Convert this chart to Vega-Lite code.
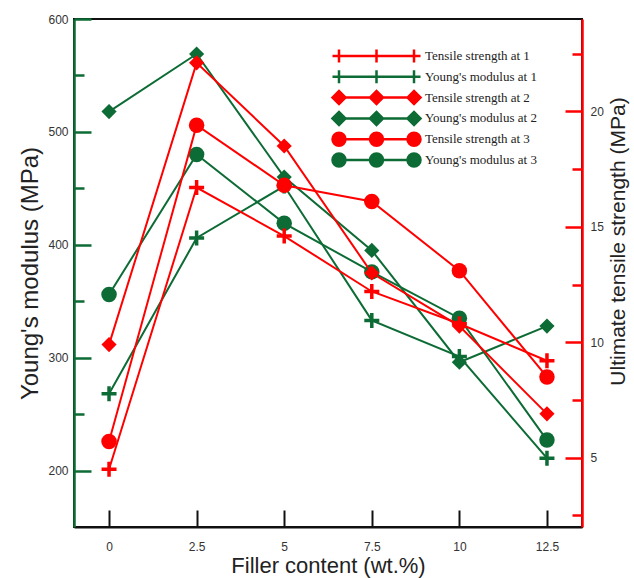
{
  "$schema": "https://vega.github.io/schema/vega-lite/v6.json",
  "width": 508,
  "height": 508,
  "autosize": {"type": "none"},
  "padding": {"left": 74, "top": 19, "right": 52, "bottom": 51},
  "background": "white",
  "config": {
    "view": {"stroke": "#111111", "strokeWidth": 2},
    "font": "Liberation Sans",
    "axis": {"grid": false, "labelFont": "Liberation Sans", "titleFont": "Liberation Sans", "labelFontSize": 12, "labelColor": "#333333", "titleColor": "#222222", "titleFontWeight": "normal"}
  },
  "data": {
    "values": [
      {"filler": 0, "prop": "Y", "set": 1, "series": "Young's modulus at 1", "value": 268},
      {"filler": 2.5, "prop": "Y", "set": 1, "series": "Young's modulus at 1", "value": 406},
      {"filler": 5, "prop": "Y", "set": 1, "series": "Young's modulus at 1", "value": 452},
      {"filler": 7.5, "prop": "Y", "set": 1, "series": "Young's modulus at 1", "value": 333},
      {"filler": 10, "prop": "Y", "set": 1, "series": "Young's modulus at 1", "value": 301},
      {"filler": 12.5, "prop": "Y", "set": 1, "series": "Young's modulus at 1", "value": 211},
      {"filler": 0, "prop": "Y", "set": 2, "series": "Young's modulus at 2", "value": 518},
      {"filler": 2.5, "prop": "Y", "set": 2, "series": "Young's modulus at 2", "value": 569},
      {"filler": 5, "prop": "Y", "set": 2, "series": "Young's modulus at 2", "value": 460},
      {"filler": 7.5, "prop": "Y", "set": 2, "series": "Young's modulus at 2", "value": 395},
      {"filler": 10, "prop": "Y", "set": 2, "series": "Young's modulus at 2", "value": 296},
      {"filler": 12.5, "prop": "Y", "set": 2, "series": "Young's modulus at 2", "value": 328},
      {"filler": 0, "prop": "Y", "set": 3, "series": "Young's modulus at 3", "value": 356},
      {"filler": 2.5, "prop": "Y", "set": 3, "series": "Young's modulus at 3", "value": 480},
      {"filler": 5, "prop": "Y", "set": 3, "series": "Young's modulus at 3", "value": 419},
      {"filler": 7.5, "prop": "Y", "set": 3, "series": "Young's modulus at 3", "value": 376},
      {"filler": 10, "prop": "Y", "set": 3, "series": "Young's modulus at 3", "value": 335},
      {"filler": 12.5, "prop": "Y", "set": 3, "series": "Young's modulus at 3", "value": 227},
      {"filler": 0, "prop": "T", "set": 1, "series": "Tensile strength at 1", "value": 4.5},
      {"filler": 2.5, "prop": "T", "set": 1, "series": "Tensile strength at 1", "value": 16.7},
      {"filler": 5, "prop": "T", "set": 1, "series": "Tensile strength at 1", "value": 14.6},
      {"filler": 7.5, "prop": "T", "set": 1, "series": "Tensile strength at 1", "value": 12.2},
      {"filler": 10, "prop": "T", "set": 1, "series": "Tensile strength at 1", "value": 10.8},
      {"filler": 12.5, "prop": "T", "set": 1, "series": "Tensile strength at 1", "value": 9.2},
      {"filler": 0, "prop": "T", "set": 2, "series": "Tensile strength at 2", "value": 9.9},
      {"filler": 2.5, "prop": "T", "set": 2, "series": "Tensile strength at 2", "value": 22.1},
      {"filler": 5, "prop": "T", "set": 2, "series": "Tensile strength at 2", "value": 18.5},
      {"filler": 7.5, "prop": "T", "set": 2, "series": "Tensile strength at 2", "value": 13.0},
      {"filler": 10, "prop": "T", "set": 2, "series": "Tensile strength at 2", "value": 10.7},
      {"filler": 12.5, "prop": "T", "set": 2, "series": "Tensile strength at 2", "value": 6.9},
      {"filler": 0, "prop": "T", "set": 3, "series": "Tensile strength at 3", "value": 5.7},
      {"filler": 2.5, "prop": "T", "set": 3, "series": "Tensile strength at 3", "value": 19.4},
      {"filler": 5, "prop": "T", "set": 3, "series": "Tensile strength at 3", "value": 16.8},
      {"filler": 7.5, "prop": "T", "set": 3, "series": "Tensile strength at 3", "value": 16.1},
      {"filler": 10, "prop": "T", "set": 3, "series": "Tensile strength at 3", "value": 13.1},
      {"filler": 12.5, "prop": "T", "set": 3, "series": "Tensile strength at 3", "value": 8.5}
    ]
  },
  "encoding": {
    "x": {
      "field": "filler",
      "type": "quantitative",
      "scale": {"domain": [-1, 13.5], "nice": false, "zero": false},
      "axis": {
        "title": "Filler content (wt.%)",
        "values": [0, 2.5, 5, 7.5, 10, 12.5],
        "labelExpr": "'' + datum.value",
        "tickSize": -17,
        "tickWidth": 2,
        "tickColor": "#111111",
        "domainColor": "#111111",
        "domainWidth": 2,
        "labelPadding": 31,
        "titleFontSize": 22,
        "titlePadding": 3
      }
    }
  },
  "layer": [
    {
      "transform": [{"filter": "datum.prop === 'Y'"}],
      "encoding": {
        "y": {
          "field": "value",
          "type": "quantitative",
          "scale": {"domain": [150, 600], "nice": false, "zero": false},
          "axis": {
            "orient": "left",
            "title": "Young's modulus (MPa)",
            "values": [200, 250, 300, 350, 400, 450, 500, 550, 600],
            "labelExpr": "datum.value % 100 === 0 ? datum.label : ''",
            "tickSize": {"condition": {"test": "datum.value % 100 === 0", "value": -17}, "value": -10},
            "tickWidth": 2.5,
            "tickColor": "#0d6b35",
            "domainColor": "#0d6b35",
            "domainWidth": 2.5,
            "labelPadding": 23,
            "titleFontSize": 24,
            "titlePadding": 5
          }
        }
      },
      "layer": [
        {"mark": {"type": "line", "color": "#0d6b35", "strokeWidth": 2}, "encoding": {"detail": {"field": "series"}}},
        {"transform": [{"filter": "datum.set === 1"}], "mark": {"type": "point", "shape": "M-1,0L1,0M0,-1L0,1", "filled": false, "color": "#0d6b35", "strokeWidth": 3.5, "size": 225, "opacity": 1}},
        {"transform": [{"filter": "datum.set === 2"}], "mark": {"type": "point", "shape": "diamond", "filled": true, "color": "#0d6b35", "size": 230, "opacity": 1}},
        {"transform": [{"filter": "datum.set === 3"}], "mark": {"type": "point", "shape": "circle", "filled": true, "color": "#0d6b35", "size": 240, "opacity": 1}}
      ]
    },
    {
      "transform": [{"filter": "datum.prop === 'T'"}],
      "encoding": {
        "y": {
          "field": "value",
          "type": "quantitative",
          "scale": {"domain": [2, 24], "nice": false, "zero": false},
          "axis": {
            "orient": "right",
            "title": "Ultimate tensile strength (MPa)",
            "values": [2.5, 5, 7.5, 10, 12.5, 15, 17.5, 20, 22.5],
            "labelExpr": "datum.value % 5 === 0 ? datum.label : ''",
            "tickSize": {"condition": {"test": "datum.value % 5 === 0", "value": -17}, "value": -10},
            "tickWidth": 2.5,
            "tickColor": "#ff0000",
            "domainColor": "#ff0000",
            "domainWidth": 2.5,
            "labelPadding": 25,
            "titleFontSize": 21,
            "titleAngle": 270,
            "titleBaseline": "top",
            "titleY": 222,
            "titlePadding": 4
          }
        }
      },
      "layer": [
        {"mark": {"type": "line", "color": "#ff0000", "strokeWidth": 2}, "encoding": {"detail": {"field": "series"}}},
        {"transform": [{"filter": "datum.set === 1"}], "mark": {"type": "point", "shape": "M-1,0L1,0M0,-1L0,1", "filled": false, "color": "#ff0000", "strokeWidth": 3.5, "size": 225, "opacity": 1}},
        {"transform": [{"filter": "datum.set === 2"}], "mark": {"type": "point", "shape": "diamond", "filled": true, "color": "#ff0000", "size": 230, "opacity": 1}},
        {"transform": [{"filter": "datum.set === 3"}], "mark": {"type": "point", "shape": "circle", "filled": true, "color": "#ff0000", "size": 240, "opacity": 1}},
        {
          "mark": {"type": "point", "filled": true, "opacity": 0, "size": 169},
          "encoding": {
            "fill": {
              "field": "series",
              "type": "nominal",
              "scale": {
                "domain": ["Tensile strength at 1", "Young's modulus at 1", "Tensile strength at 2", "Young's modulus at 2", "Tensile strength at 3", "Young's modulus at 3"],
                "range": ["#ff0000", "#0d6b35", "#ff0000", "#0d6b35", "#ff0000", "#0d6b35"]
              },
              "legend": {
                "title": null,
                "orient": "none",
                "legendX": 257,
                "legendY": 29,
                "labelFont": "Liberation Serif",
                "labelFontSize": 13,
                "labelColor": "#222222",
                "labelOffset": 78,
                "rowPadding": -3.2,
                "symbolSize": 169,
                "symbolStrokeWidth": 2.5,
                "encode": {
                  "symbols": {
                    "update": {
                      "fill": {"signal": "indexof(datum.value, 'Tensile') === 0 ? '#ff0000' : '#0d6b35'"},
                      "stroke": {"signal": "indexof(datum.value, 'Tensile') === 0 ? '#ff0000' : '#0d6b35'"},
                      "fillOpacity": {"value": 1},
                      "strokeOpacity": {"value": 1},
                      "opacity": {"value": 1}
                    }
                  }
                }
              }
            },
            "stroke": {
              "field": "series",
              "type": "nominal",
              "scale": {
                "domain": ["Tensile strength at 1", "Young's modulus at 1", "Tensile strength at 2", "Young's modulus at 2", "Tensile strength at 3", "Young's modulus at 3"],
                "range": ["#ff0000", "#0d6b35", "#ff0000", "#0d6b35", "#ff0000", "#0d6b35"]
              }
            },
            "shape": {
              "field": "series",
              "type": "nominal",
              "scale": {
                "domain": ["Tensile strength at 1", "Young's modulus at 1", "Tensile strength at 2", "Young's modulus at 2", "Tensile strength at 3", "Young's modulus at 3"],
                "range": [
                  "M0,0L11.54,0M-1,0L1,0M0,-1L0,1M4.77,0L6.77,0M5.77,-1L5.77,1M10.54,0L12.54,0M11.54,-1L11.54,1",
                  "M0,0L11.54,0M-1,0L1,0M0,-1L0,1M4.77,0L6.77,0M5.77,-1L5.77,1M10.54,0L12.54,0M11.54,-1L11.54,1",
                  "M0,0L11.54,0M-1,0L0,-1L1,0L0,1ZM4.77,0L5.77,-1L6.77,0L5.77,1ZM10.54,0L11.54,-1L12.54,0L11.54,1Z",
                  "M0,0L11.54,0M-1,0L0,-1L1,0L0,1ZM4.77,0L5.77,-1L6.77,0L5.77,1ZM10.54,0L11.54,-1L12.54,0L11.54,1Z",
                  "M0,0L11.54,0M-1,0A1,1,0,1,0,1,0A1,1,0,1,0,-1,0ZM4.77,0A1,1,0,1,0,6.77,0A1,1,0,1,0,4.77,0ZM10.54,0A1,1,0,1,0,12.54,0A1,1,0,1,0,10.54,0Z",
                  "M0,0L11.54,0M-1,0A1,1,0,1,0,1,0A1,1,0,1,0,-1,0ZM4.77,0A1,1,0,1,0,6.77,0A1,1,0,1,0,4.77,0ZM10.54,0A1,1,0,1,0,12.54,0A1,1,0,1,0,10.54,0Z"
                ]
              }
            }
          }
        }
      ]
    }
  ],
  "resolve": {"scale": {"y": "independent"}}
}
